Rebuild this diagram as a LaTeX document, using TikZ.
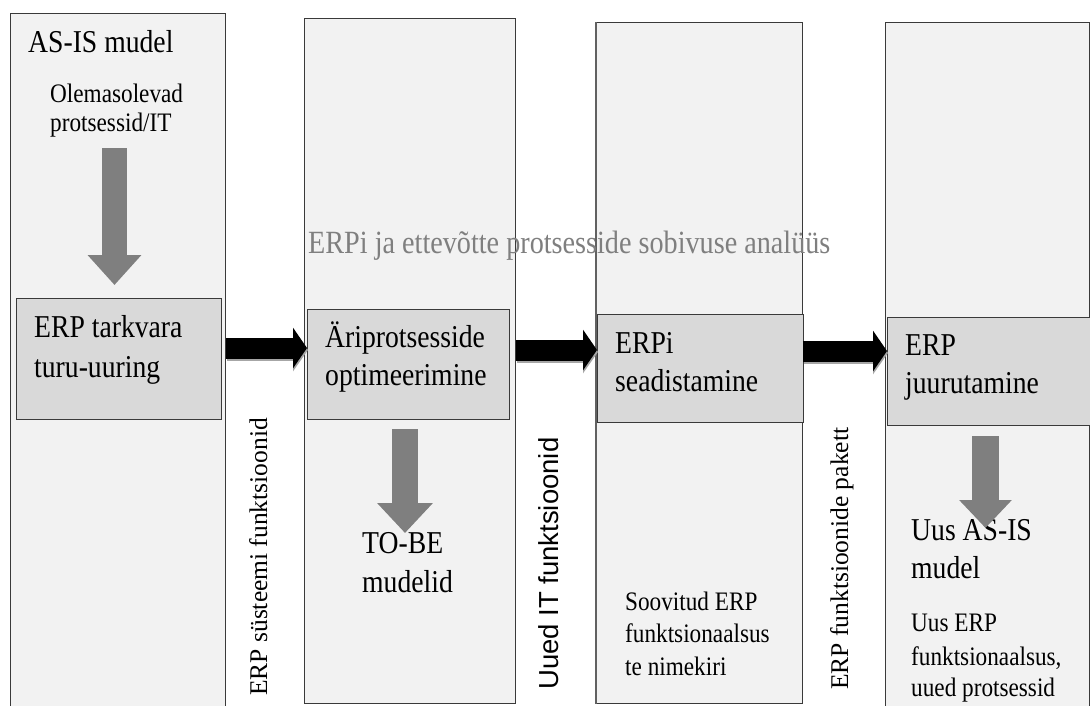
\documentclass[tikz,border=0pt]{standalone}
\usepackage{fontspec}
\setmainfont{Liberation Serif}[FakeStretch=0.87]
\newfontfamily\uprightserif{Liberation Serif}
\newfontfamily\uprightsans{Liberation Sans}
\usetikzlibrary{arrows.meta}

\definecolor{colfill}{HTML}{F2F2F2}
\definecolor{stepfill}{HTML}{D9D9D9}
\definecolor{edgegray}{HTML}{3A3A3A}
\definecolor{downgray}{HTML}{7F7F7F}

\tikzset{
  column/.style={draw=edgegray, line width=0.9pt, fill=colfill, inner sep=0pt, anchor=north west},
  stepbox/.style={draw=edgegray, line width=1pt, fill=stepfill, inner sep=0pt, anchor=north west},
  bigtxt/.style={inner sep=0pt, anchor=base west, font=\fontsize{31.8}{38}\selectfont},
  smalltxt/.style={inner sep=0pt, anchor=base west, font=\fontsize{26.7}{32}\selectfont},
  sidetxt/.style={inner sep=0pt, anchor=base west, rotate=90, font=\uprightserif\fontsize{25.5}{30}\selectfont},
  sidesans/.style={inner sep=0pt, anchor=base west, rotate=90, font=\uprightsans\fontsize{27.5}{32}\selectfont},
  flow/.style={line width=21pt, black, -{Triangle[length=14pt,width=40pt]}},
  flowshadow/.style={line width=22pt, black!35, -{Triangle[length=15pt,width=42pt]}},
  down/.style={downgray},
}

\begin{document}
\begin{tikzpicture}[x=1pt, y=-1pt]
\useasboundingbox (0,0) rectangle (1090,705);
\clip (0,0) rectangle (1090,705);
\fill[white] (0,0) rectangle (1090,705);

% phase columns
\node[column, minimum width=215pt, minimum height=720pt] (col1) at (10,13) {};
\node[column, minimum width=211pt, minimum height=685pt] (col2) at (304,18) {};
\node[column, minimum width=206pt, minimum height=681pt] (col3) at (596,22) {};
\node[column, minimum width=204pt, minimum height=720pt] (col4) at (885,22) {};
\draw[edgegray!80, line width=2.2pt] (col3.north west) -- (col3.south west);

% process steps
\node[stepbox, minimum width=205pt, minimum height=121pt] (b1) at (16,298) {};
\node[stepbox, minimum width=202pt, minimum height=110pt] (b2) at (307,309) {};
\node[stepbox, minimum width=206pt, minimum height=108pt] (b3) at (597,314) {};
\node[stepbox, minimum width=203pt, minimum height=108pt] (b4) at (887,317) {};

% column 1
\node[bigtxt] (asis) at (28,52) {AS-IS mudel};
\node[smalltxt] (ol1) at (50,102) {Olemasolevad};
\node[smalltxt] (ol2) at (50,131) {protsessid/IT};
\node[bigtxt] (t1a) at (34,337) {ERP tarkvara};
\node[bigtxt] (t1b) at (34,377) {turu-uuring};

% column 2
\node[bigtxt] (t2a) at (325,347) {Äriprotsesside};
\node[bigtxt] (t2b) at (325,385) {optimeerimine};
\node[bigtxt] (tb1) at (362,553) {TO-BE};
\node[bigtxt] (tb2) at (362,592) {mudelid};

% column 3
\node[bigtxt] (t3a) at (615,353) {ERPi};
\node[bigtxt] (t3b) at (615,391) {seadistamine};
\node[smalltxt] (sv1) at (625,610) {Soovitud ERP};
\node[smalltxt] (sv2) at (625,642) {funktsionaalsus};
\node[smalltxt] (sv3) at (625,675) {te nimekiri};

% column 4
\node[bigtxt] (t4a) at (905,355) {ERP};
\node[bigtxt] (t4b) at (905,393) {juurutamine};
\node[bigtxt] (ua1) at (911,540) {Uus AS-IS};
\node[bigtxt] (ua2) at (911,578) {mudel};
\node[smalltxt] (ue1) at (911,631) {Uus ERP};
\node[smalltxt] (ue2) at (911,665) {funktsionaalsus,};
\node[smalltxt] (ue3) at (911,696) {uued protsessid};

% vertical labels between the columns
\node[sidetxt] (lab1) at (267,696) {ERP süsteemi funktsioonid};
\node[sidesans] (lab2) at (558,690) {Uued IT funktsioonid};
\node[sidetxt] (lab3) at (848,690) {ERP funktsioonide pakett};

% downward arrows inside the columns
\coordinate (d1a) at (114.5,148); \coordinate (d1b) at (114.5,285);
\coordinate (d2a) at (405,429);   \coordinate (d2b) at (405,533);
\coordinate (d4a) at (985.5,436); \coordinate (d4b) at (985.5,528);
\draw[down, line width=25pt, -{Triangle[length=30pt,width=52pt]}] (d1a) -- (d1b);
\draw[down, line width=26pt, -{Triangle[length=30pt,width=54pt]}] (d2a) -- (d2b);
\draw[down, line width=27pt, -{Triangle[length=28pt,width=51pt]}] (d4a) -- (d4b);

% flow arrows between the steps
\coordinate (y1) at (0,348);
\coordinate (y2) at (0,350);
\coordinate (y3) at (0,351);
\draw[flowshadow] ([shift={(1,2)}]col1.east |- y1) -- ([shift={(1,2)}]b2.west |- y1);
\draw[flowshadow] ([shift={(1,2)}]col2.east |- y2) -- ([shift={(1,2)}]b3.west |- y2);
\draw[flowshadow] ([shift={(1,2)}]col3.east |- y3) -- ([shift={(1,2)}]b4.west |- y3);
\draw[flow] (col1.east |- y1) -- (b2.west |- y1);
\draw[flow] (col2.east |- y2) -- (b3.west |- y2);
\draw[flow] (col3.east |- y3) -- (b4.west |- y3);

% overlaid caption
\node[inner sep=0pt, anchor=base west, text=downgray, font=\fontsize{32.4}{38}\selectfont] (fit) at (308,253) {ERPi ja ettevõtte protsesside sobivuse analüüs};
\end{tikzpicture}
\end{document}
